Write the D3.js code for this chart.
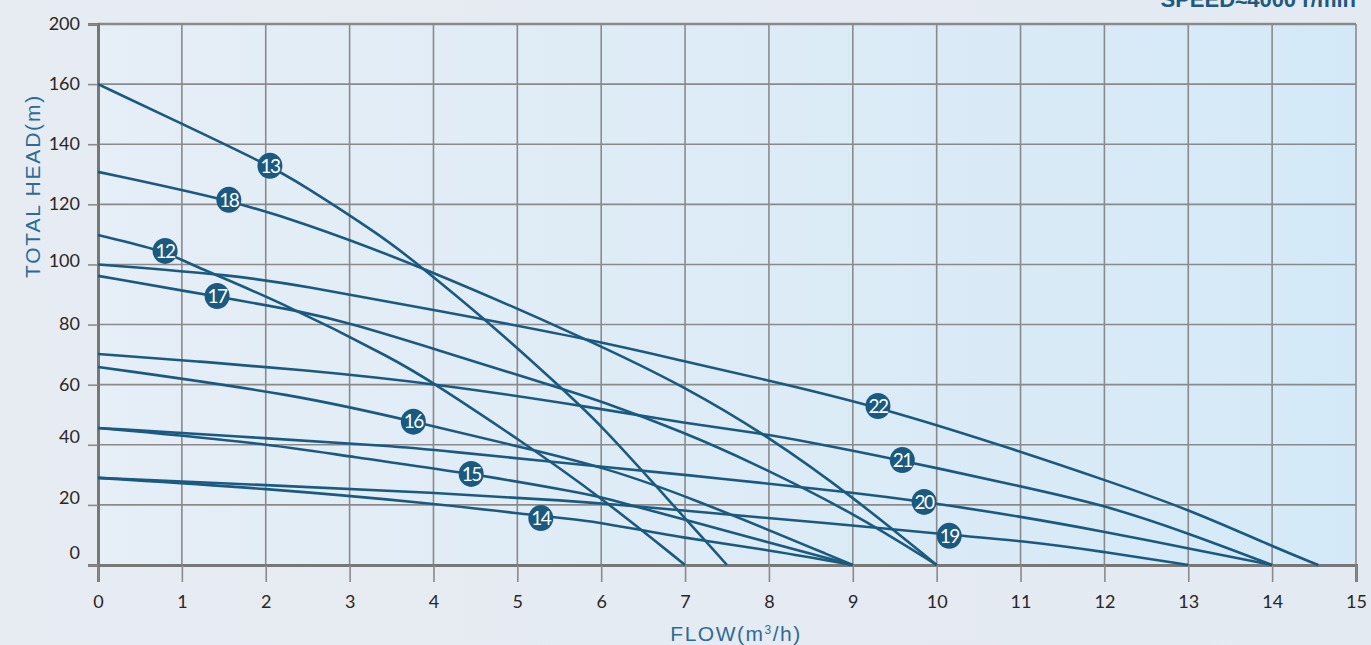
<!DOCTYPE html>
<html>
<head>
<meta charset="utf-8">
<script src="https://cdn.jsdelivr.net/npm/d3@7"></script>
<style>
  html, body { margin: 0; padding: 0; background: #e8edf4; }
  svg { display: block; }
</style>
</head>
<body>
<svg id="chart" width="1371" height="645"></svg>
<script>
// ---------------- DATA ----------------
const xTicks = [0,1,2,3,4,5,6,7,8,9,10,11,12,13,14,15];
const yTicks = [0,20,40,60,80,100,120,140,160,180];
const yTickLabels = ["0","20","40","60","80","100","120","140","160","200"];

const curveNames = ["13","18","12","22","17","21","16","15","20","19","14"];

const flow13 = [0, 1, 2.05, 2.41, 3.38, 3.8, 4.63, 5.51, 6, 6.66, 7.5];
const head13 = [160, 146.8, 132.8, 127, 109.5, 100.4, 81.5, 59.3, 46.5, 26.1, 0];

const flow18 = [0, 1.56, 2.41, 3.8, 5.9, 7, 8, 9, 10];
const head18 = [130.8, 121.5, 114.2, 100, 74.3, 59.3, 42.7, 22.7, 0];

const flow12 = [0, 0.8, 1.06, 2.13, 3.6, 4, 5.03, 5.99, 7];
const head12 = [109.8, 104.5, 100.4, 88.2, 67.5, 60.5, 41.6, 22.7, 0];

const flow22 = [0, 1.63, 2.41, 4, 5.99, 7, 7.89, 9.3, 11.01, 12, 13.01, 14.01, 14.55];
const head22 = [100, 96.4, 93, 84.9, 74.4, 67.7, 62.1, 52.8, 37.7, 28.3, 18.5, 6.1, 0];

const flow17 = [0, 1.42, 2.41, 3, 4, 5.51, 6, 7, 7.77, 9, 10];
const head17 = [96.2, 89.3, 84.5, 80.5, 72, 58.8, 54.5, 44, 34.5, 17.5, 0];

const flow21 = [0, 1.22, 2.41, 4, 6, 7, 7.89, 8.37, 9.59, 11.01, 12, 13.01, 14];
const head21 = [70.2, 67.7, 65, 60.5, 52, 47.2, 43.8, 41.5, 34.8, 26.1, 20, 10.5, 0];

const flow16 = [0, 2.41, 3.76, 5.19, 6, 7, 9];
const head16 = [65.9, 56.5, 47.7, 38.3, 32.7, 23.3, 0];

const flow15 = [0, 2, 3, 4.45, 5.75, 6, 7, 9];
const head15 = [45.6, 40.5, 36, 30.5, 24, 22.7, 15, 0];

const flow20 = [0, 2, 3.6, 4, 6, 7.18, 7.77, 9, 9.84, 11.01, 12, 13.01, 14];
const head20 = [45.6, 42.2, 39.4, 38.3, 32.7, 29.5, 27.7, 24.1, 21.1, 16.1, 11.1, 5.5, 0];

const flow19 = [0, 2, 4, 5.75, 6, 7.18, 7.77, 9.2, 10.15, 11.01, 12, 13];
const head19 = [29, 26.6, 24.1, 21.1, 20.5, 17.7, 16.1, 12.7, 10, 8.1, 4.4, 0];

const flow14 = [0, 2, 4, 5.28, 5.75, 6, 7, 7.89, 9];
const head14 = [29, 25.5, 20.5, 16.3, 15, 14, 8.9, 5.5, 0];

// label positions (flow, head)
const labelFlow = [2.05, 1.56, 0.8, 9.3, 1.42, 9.59, 3.76, 4.45, 9.85, 10.15, 5.28];
const labelHead = [132.8, 121.5, 104.5, 52.9, 89.5, 34.9, 47.7, 30.3, 21.0, 9.7, 15.6];

const seriesFlows = [flow13, flow18, flow12, flow22, flow17, flow21, flow16, flow15, flow20, flow19, flow14];
const seriesHeads = [head13, head18, head12, head22, head17, head21, head16, head15, head20, head19, head14];

// ---------------- CHART ----------------
const W = 1371, H = 645;
const margin = {top: 24, right: 15, bottom: 80, left: 98};
const svg = d3.select("#chart");

const x = d3.scaleLinear().domain([0, 15]).range([margin.left, W - margin.right]);
const y = d3.scaleLinear().domain([0, 180]).range([H - margin.bottom, margin.top]);

const defs = svg.append("defs");
const pg = defs.append("linearGradient").attr("id", "pageBg")
  .attr("x1", "0").attr("y1", "0").attr("x2", "1").attr("y2", "0");
pg.append("stop").attr("offset", "0%").attr("stop-color", "#e7ecf3");
pg.append("stop").attr("offset", "100%").attr("stop-color", "#e4eaf2");

const g = defs.append("linearGradient").attr("id", "plotBg")
  .attr("x1", "0").attr("y1", "0").attr("x2", "1").attr("y2", "0");
g.append("stop").attr("offset", "0%").attr("stop-color", "#e6eef6");
g.append("stop").attr("offset", "100%").attr("stop-color", "#d4e9f7");

svg.append("rect").attr("width", W).attr("height", H).attr("fill", "url(#pageBg)");

svg.append("rect")
  .attr("x", x(0)).attr("y", y(180))
  .attr("width", x(15) - x(0)).attr("height", y(0) - y(180))
  .attr("fill", "url(#plotBg)");

const numFont = "Lato,'Open Sans',sans-serif";

// grid lines
const grid = svg.append("g");
grid.selectAll("line.v").data(xTicks).join("line")
  .attr("x1", d => x(d)).attr("x2", d => x(d))
  .attr("y1", y(180)).attr("y2", y(0))
  .attr("stroke", "#8a8a8a").attr("stroke-width", 1.6);
grid.selectAll("line.h").data(yTicks).join("line")
  .attr("x1", x(0)).attr("x2", x(15))
  .attr("y1", d => y(d)).attr("y2", d => y(d))
  .attr("stroke", "#8a8a8a").attr("stroke-width", d => d === 180 ? 2.4 : 1.6);

// x axis
const xAxis = svg.append("g")
  .attr("transform", `translate(0,${y(0)})`)
  .call(d3.axisBottom(x).tickValues(xTicks).tickFormat(d3.format("d")).tickSize(17).tickPadding(13));
xAxis.select(".domain").attr("stroke", "#777").attr("stroke-width", 3);
xAxis.selectAll(".tick line").attr("stroke", "#8a8a8a").attr("stroke-width", 1.6);
xAxis.selectAll(".tick text")
  .attr("font-family", numFont).attr("font-size", 18).attr("fill", "#2a2626");

// y axis
const yAxis = svg.append("g")
  .attr("transform", `translate(${x(0)},0)`)
  .call(d3.axisLeft(y).tickValues(yTicks).tickFormat((d, i) => yTickLabels[i]).tickSize(10).tickPadding(8));
yAxis.select(".domain").attr("stroke", "#777").attr("stroke-width", 3);
yAxis.selectAll(".tick line").attr("stroke", "#8a8a8a").attr("stroke-width", 1.6);
yAxis.selectAll(".tick text")
  .attr("font-family", numFont).attr("font-size", 18).attr("fill", "#2a2626")
  .attr("dy", d => d === 0 ? "-0.35em" : d <= 40 ? "-0.1em" : d === 100 ? "0.1em" : "0.3em");

// curves
const line = d3.line().x(d => x(d[0])).y(d => y(d[1])).curve(d3.curveBasis);
const curves = svg.append("g");
curveNames.forEach((name, i) => {
  const pts = seriesFlows[i].map((f, j) => [f, seriesHeads[i][j]]);
  curves.append("path").datum(pts)
    .attr("d", line)
    .attr("fill", "none")
    .attr("stroke", "#1b5a80")
    .attr("stroke-width", 2.6)
    .attr("stroke-linejoin", "round");
});

// curve labels
const labels = svg.append("g");
curveNames.forEach((name, i) => {
  const cx = x(labelFlow[i]), cy = y(labelHead[i]);
  labels.append("ellipse").attr("cx", cx).attr("cy", cy).attr("rx", 12.5).attr("ry", 13)
    .attr("fill", "#1b5a80");
  labels.append("text").attr("x", cx).attr("y", cy)
    .attr("text-anchor", "middle").attr("dy", "0.36em")
    .attr("font-family", numFont).attr("font-size", 19)
    .attr("letter-spacing", "-1.5px")
    .attr("fill", "#ffffff").text(name);
});

// axis titles
svg.append("text")
  .attr("x", 736).attr("y", 641)
  .attr("text-anchor", "middle")
  .attr("font-family", "'Liberation Sans','DejaVu Sans',sans-serif")
  .attr("font-size", 21).attr("letter-spacing", "1.5px")
  .attr("fill", "#2d6b97")
  .html('FLOW(m<tspan baseline-shift="super" font-size="12">3</tspan>/h)');

svg.append("text")
  .attr("transform", `translate(40,${186}) rotate(-90)`)
  .attr("text-anchor", "middle")
  .attr("font-family", "'Liberation Sans','DejaVu Sans',sans-serif")
  .attr("font-size", 21).attr("letter-spacing", "1.8px")
  .attr("fill", "#2d6b97")
  .text("TOTAL HEAD(m)");

// speed title (partly cut off at top, as in the source)
svg.append("text")
  .attr("x", 1356).attr("y", 7)
  .attr("text-anchor", "end")
  .attr("font-family", "'Liberation Sans','DejaVu Sans',sans-serif")
  .attr("font-weight", "bold")
  .attr("font-size", 22)
  .attr("fill", "#1d5a80")
  .text("SPEED≈4000 r/min");
</script>
</body>
</html>
